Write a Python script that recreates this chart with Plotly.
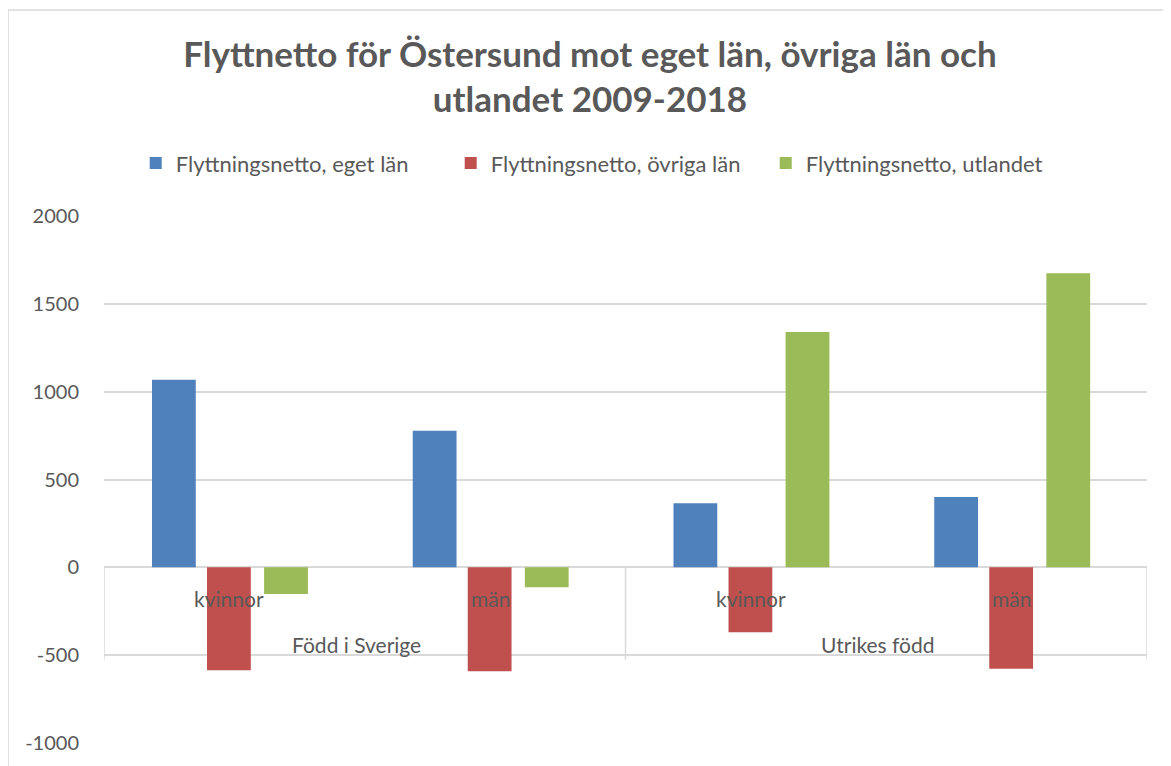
import plotly.graph_objects as go

# ---- data ----
groups = ["Född i Sverige", "Född i Sverige", "Utrikes född", "Utrikes född"]
sexes = ["kvinnor", "män", "kvinnor", "män"]
categories = ["Född i Sverige – kvinnor", "Född i Sverige – män", "Utrikes född – kvinnor", "Utrikes född – män"]
series_names = ["Flyttningsnetto, eget län", "Flyttningsnetto, övriga län", "Flyttningsnetto, utlandet"]
eget_lan = [1068, 778, 365, 401]
ovriga_lan = [-586, -592, -370, -578]
utlandet = [-152, -113, 1340, 1674]
y_ticks = [-1000, -500, 0, 500, 1000, 1500, 2000]
y_tick_labels = ["-1000", "-500", "0", "500", "1000", "1500", "2000"]

# ---- style ----
colors = ["#4F81BD", "#C0504D", "#9BBB59"]
offsets = [-0.316, -0.105, 0.114]
bar_w = 0.168
txt = "#595959"
grid = "#D9D9D9"
FONT = "Lato"

fig = go.Figure()
for name, vals, col, off in zip(series_names, [eget_lan, ovriga_lan, utlandet], colors, offsets):
    fig.add_trace(go.Bar(
        x=categories, y=vals, name=name,
        marker=dict(color=col, line=dict(width=0)),
        offset=off, width=bar_w,
    ))

# category labels (inside the axis box at zero)
for cat, s in zip(categories, sexes):
    fig.add_annotation(x=cat, y=-176, xref="x", yref="y", text=s, showarrow=False,
                       xshift=-5, font=dict(family=FONT, size=21, color=txt))
grp_names = []
for g in groups:
    if g not in grp_names:
        grp_names.append(g)
for i, g in enumerate(grp_names):
    fig.add_annotation(x=0.5 + 2 * i, y=-437, xref="x", yref="y", text=g, showarrow=False,
                       xshift=-8, font=dict(family=FONT, size=21, color=txt))

# axis box dividers
for xv in [-0.5, 1.5, 3.5]:
    fig.add_shape(type="line", xref="x", yref="y", x0=xv, x1=xv, y0=0, y1=-525,
                  line=dict(color=grid, width=1.5))

# chart border
fig.add_shape(type="rect", xref="paper", yref="paper", x0=-0.092, x1=1.1, y0=-0.2, y1=1.391,
              line=dict(color=grid, width=1.5), fillcolor="rgba(0,0,0,0)", layer="below")

fig.update_layout(
    width=1163, height=758,
    margin=dict(l=96, r=24, t=208, b=23),
    paper_bgcolor="white", plot_bgcolor="white",
    barmode="group",
    font=dict(family=FONT, color=txt),
    title=dict(text="<b>Flyttnetto för Östersund mot eget län, övriga län och<br>utlandet 2009-2018</b>",
               x=0.5004, xref="container", xanchor="center",
               y=0.9228, yref="container", yanchor="middle",
               font=dict(family=FONT, size=35, color=txt)),
    legend=dict(orientation="h", x=0.0304, xanchor="left", y=1.10, yanchor="middle",
                entrywidth=270, entrywidthmode="pixels",
                font=dict(family=FONT, size=22, color=txt), traceorder="normal"),
    xaxis=dict(type="category", range=[-0.5, 3.5], showticklabels=False, showgrid=False,
               zeroline=False, showline=False, ticks=""),
    yaxis=dict(range=[-1000, 2000], tickvals=y_ticks, ticktext=y_tick_labels,
               showgrid=True, gridcolor=grid, gridwidth=1.5,
               zeroline=True, zerolinecolor=grid, zerolinewidth=1.5,
               tickfont=dict(family=FONT, size=20, color=txt), ticks="", ticklabelstandoff=24),
    showlegend=True,
)

fig.write_html("out.html")
